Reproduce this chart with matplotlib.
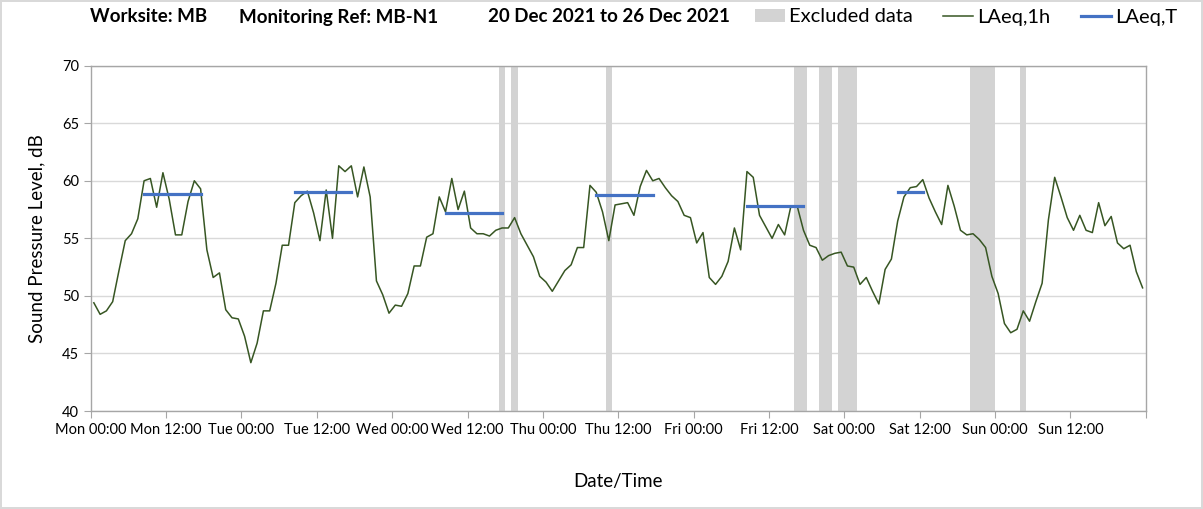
import numpy as np
import matplotlib
matplotlib.use("Agg")
import matplotlib.pyplot as plt
from matplotlib.patches import Patch
from matplotlib.lines import Line2D

plt.rcParams['font.family'] = ['Lato', 'DejaVu Sans']

# hourly LAeq,1h, Mon 00:00 .. Sun 23:00 (168 hours)
laeq_1h = [
    49.4, 48.4, 48.7, 49.5, 52.2, 54.8, 55.4, 56.7, 60.0, 60.2, 57.7, 60.7,
    58.4, 55.3, 55.3, 58.2, 60.0, 59.3, 54.0, 51.6, 52.0, 48.8, 48.1, 48.0,
    46.5, 44.2, 45.9, 48.7, 48.7, 51.1, 54.4, 54.4, 58.1, 58.7, 59.1, 57.2,
    54.8, 59.2, 55.0, 61.3, 60.8, 61.3, 58.6, 61.2, 58.6, 51.3, 50.1, 48.5,
    49.2, 49.1, 50.2, 52.6, 52.6, 55.1, 55.4, 58.6, 57.3, 60.2, 57.5, 59.1,
    55.9, 55.4, 55.4, 55.2, 55.7, 55.9, 55.9, 56.8, 55.4, 54.4, 53.4, 51.7,
    51.2, 50.4, 51.3, 52.2, 52.7, 54.2, 54.2, 59.6, 59.0, 57.3, 54.8, 57.9,
    58.0, 58.1, 57.0, 59.5, 60.9, 60.0, 60.2, 59.4, 58.7, 58.2, 57.0, 56.8,
    54.6, 55.5, 51.6, 51.0, 51.7, 53.0, 55.9, 54.0, 60.8, 60.3, 57.0, 56.0,
    55.0, 56.2, 55.3, 57.8, 57.8, 55.7, 54.4, 54.2, 53.1, 53.5, 53.7, 53.8,
    52.6, 52.5, 51.0, 51.6, 50.4, 49.3, 52.3, 53.2, 56.5, 58.6, 59.4, 59.5,
    60.1, 58.5, 57.3, 56.2, 59.6, 57.8, 55.7, 55.3, 55.4, 54.9, 54.2, 51.7,
    50.2, 47.6, 46.8, 47.1, 48.7, 47.8, 49.5, 51.1, 56.6, 60.3, 58.6, 56.8,
    55.7, 57.0, 55.7, 55.5, 58.1, 56.1, 56.9, 54.6, 54.1, 54.4, 52.1, 50.7,
]

# LAeq,T day periods (first hour, last hour, level)
t_start = [8, 32, 56, 80, 104, 128]
t_end = [17, 41, 65, 89, 113, 132]
laeq_t = [58.85, 59.0, 57.2, 58.8, 57.8, 59.0]

# hours flagged as excluded
excluded_hours = [65, 67, 82, 112, 113, 116, 117, 119, 120, 121,
                  140, 141, 142, 143, 148]

days = ["Mon", "Tue", "Wed", "Thu", "Fri", "Sat", "Sun"]
tick_labels = [f"{d} {t}" for d in days for t in ("00:00", "12:00")]

green = "#375623"
blue = "#4472C4"
grey = "#D3D3D3"

fig = plt.figure(figsize=(12.03, 5.09), dpi=100)
fig.patch.set_edgecolor("#D9D9D9")
fig.patch.set_linewidth(1.5)
ax = fig.add_axes([0.0754, 0.1925, 0.877, 0.6785])

hours = np.arange(len(laeq_1h)) + 0.5
ax.bar(np.array(excluded_hours) + 0.5, 30, bottom=40, width=1.0,
       color=grey, linewidth=0, zorder=1)
ax.plot(hours, laeq_1h, color=green, lw=1.1, zorder=3)
for s, e, v in zip(t_start, t_end, laeq_t):
    ax.plot([s + 0.5, e + 0.5], [v, v], color=blue, lw=2.3, zorder=4)

ax.set_xlim(0, 168)
ax.set_ylim(40, 70)
ax.set_yticks(np.arange(40, 71, 5))
ax.set_xticks(np.arange(0, 169, 12))
ax.set_xticklabels(tick_labels + [""])
ax.set_xticks(np.arange(0, 169, 24), minor=True)

ax.grid(axis="y", color="#D9D9D9", lw=1.0, zorder=0)
ax.grid(axis="x", which="minor", color="#E0E0E0", lw=1.0, zorder=0)
ax.set_axisbelow(True)
ax.tick_params(axis="x", which="minor", length=0)
ax.tick_params(axis="both", which="major", length=5, color="#A6A6A6",
               labelsize=10.5, labelcolor="#000000")
for sp in ax.spines.values():
    sp.set_color("#A6A6A6")
    sp.set_linewidth(1.0)

ax.set_ylabel("Sound Pressure Level, dB", fontsize=13.5, labelpad=12)
ax.set_xlabel("Date/Time", fontsize=13.5, labelpad=26)

W, H = 1203, 509
ty = 1 - 17 / H
fig.text(90 / W, ty, "Worksite: MB", fontsize=13.5, fontweight="bold", va="center")
fig.text(239 / W, ty, "Monitoring Ref: MB-N1", fontsize=13.5, fontweight="bold", va="center")
fig.text(488 / W, ty, "20 Dec 2021 to 26 Dec 2021", fontsize=13.5, fontweight="bold", va="center")

handles = [Patch(facecolor=grey, edgecolor="none"),
           Line2D([], [], color=green, lw=1.1),
           Line2D([], [], color=blue, lw=2.3)]
fig.legend(handles, ["Excluded data", "LAeq,1h", "LAeq,T"],
           loc="center left", bbox_to_anchor=(755 / W, ty), ncol=3,
           frameon=False, fontsize=14.5, handlelength=1.5, handleheight=0.6,
           handletextpad=0.2, columnspacing=1.5, borderpad=0, borderaxespad=0)

fig.savefig("out.png", dpi=100)
